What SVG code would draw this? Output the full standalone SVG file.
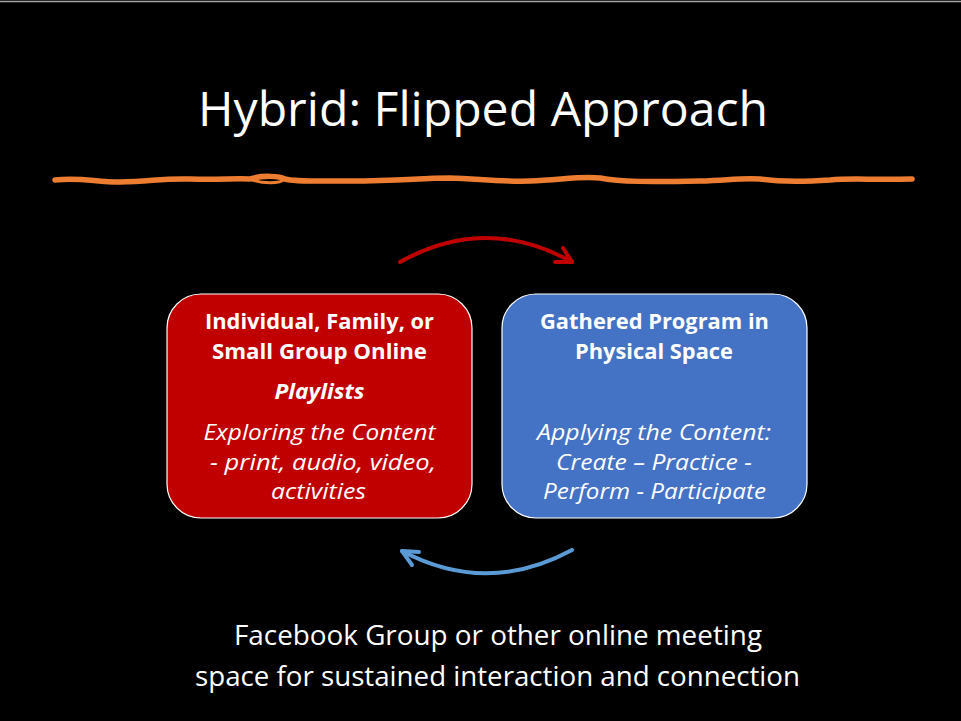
<svg xmlns="http://www.w3.org/2000/svg" width="961" height="721" viewBox="0 0 961 721">
<defs>
<style>
.t{font-family:"Open Sans","Noto Sans","Liberation Sans",sans-serif;fill:#fff;text-anchor:middle}
.b{font-weight:bold;font-size:22px}
.i{font-style:italic;font-size:22px}
.box{stroke:#fff;stroke-width:1.2}
.arc{fill:none;stroke-width:4;stroke-linecap:round;stroke-linejoin:round}
</style>
</defs>
<rect x="0" y="0" width="961" height="721" fill="#000"/>
<line x1="0" y1="1.5" x2="961" y2="1.5" stroke="#a6a6a6" stroke-width="1.5"/>
<g id="title">
<text class="t" x="483" y="126" font-size="47" textLength="570" lengthAdjust="spacingAndGlyphs">Hybrid: Flipped Approach</text>
</g>
<g id="rule">
<path d="M55,180 C80,177 95,182 120,182 C150,182 160,178 190,179 C220,180 235,178 250,179 C262,175 280,176 285,179 C295,182 320,181 350,181 C400,181 420,178 450,178 C480,179 500,182 530,181 C560,180 580,176 600,178 C620,182 650,182 700,181 C730,180 740,178 760,179 C780,182 800,182 830,180 C850,178 870,180 912,179" fill="none" stroke="#ED7D31" stroke-width="5.5" stroke-linecap="round"/>
<path d="M250,179 C262,184 280,184 285,179" fill="none" stroke="#ED7D31" stroke-width="3"/>
</g>
<g id="connectors">
<path class="arc" stroke="#C00000" d="M400,262 Q486,214 572,262"/>
<path class="arc" stroke="#C00000" d="M563,248 L572,262 L555,262"/>
<path class="arc" stroke="#5B9BD5" d="M572,550 Q487,596 402,551"/>
<path class="arc" stroke="#5B9BD5" d="M419,552 L402,551 L412,565"/>
</g>
<g id="node-online">
<rect class="box" x="167" y="294" width="305" height="224" rx="34" fill="#C00000"/>
<text class="t b" x="319.5" y="329" textLength="229" lengthAdjust="spacingAndGlyphs">Individual, Family, or</text>
<text class="t b" x="319.5" y="359" textLength="215" lengthAdjust="spacingAndGlyphs">Small Group Online</text>
<text class="t b" x="319.5" y="399" font-style="italic" textLength="90" lengthAdjust="spacingAndGlyphs">Playlists</text>
<text class="t i" x="319.5" y="440" textLength="232" lengthAdjust="spacingAndGlyphs">Exploring the Content</text>
<text class="t i" x="323" y="470" textLength="226" lengthAdjust="spacingAndGlyphs">- print, audio, video,</text>
<text class="t i" x="318.5" y="499" textLength="95" lengthAdjust="spacingAndGlyphs">activities</text>
</g>
<g id="node-physical">
<rect class="box" x="502" y="294" width="305" height="224" rx="34" fill="#4472C4"/>
<text class="t b" x="654.5" y="329" textLength="229" lengthAdjust="spacingAndGlyphs">Gathered Program in</text>
<text class="t b" x="654" y="359" textLength="158" lengthAdjust="spacingAndGlyphs">Physical Space</text>
<text class="t i" x="654" y="440" textLength="234" lengthAdjust="spacingAndGlyphs">Applying the Content:</text>
<text class="t i" x="654" y="470" textLength="196" lengthAdjust="spacingAndGlyphs">Create – Practice -</text>
<text class="t i" x="654.5" y="499" textLength="223" lengthAdjust="spacingAndGlyphs">Perform - Participate</text>
</g>
<g id="footer">
<text class="t" x="498" y="645" font-size="28" textLength="528" lengthAdjust="spacingAndGlyphs">Facebook Group or other online meeting</text>
<text class="t" x="497.5" y="686" font-size="28" textLength="605" lengthAdjust="spacingAndGlyphs">space for sustained interaction and connection</text>
</g>
</svg>
